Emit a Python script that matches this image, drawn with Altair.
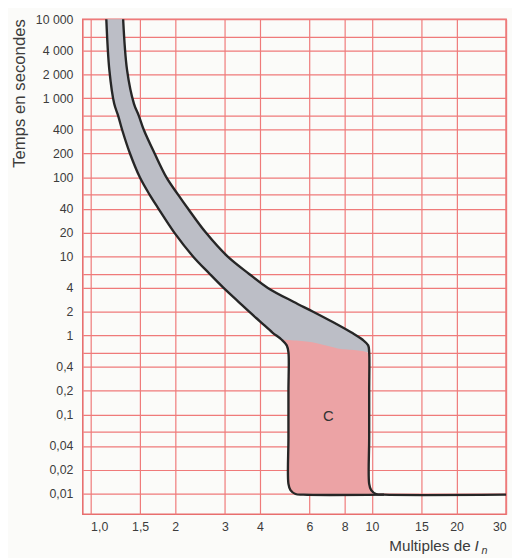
import altair as alt
import pandas as pd

# ---- axis ticks / grid ----
x_ticks = [1, 1.5, 2, 3, 4, 6, 8, 10, 15, 20, 30]
y_grid = [0.01, 0.02, 0.04, 0.06, 0.1, 0.2, 0.4, 0.6, 1, 2, 4, 6, 10, 20, 40, 60,
          100, 200, 400, 600, 1000, 2000, 4000, 6000, 10000]
y_labels = [0.01, 0.02, 0.04, 0.1, 0.2, 0.4, 1, 2, 4, 10, 20, 40, 100, 200, 400,
            1000, 2000, 4000, 10000]

# ---- lower (no-trip) curve: multiples of In / seconds ----
left_x = [1.137, 1.166, 1.213, 1.253, 1.294, 1.38, 1.496, 1.622, 1.744, 1.984, 2.312,
          2.652, 2.969, 3.355, 3.661, 4.025, 4.43, 4.77, 4.98, 5.05, 5.05, 5.05, 5.05,
          5.135, 5.35, 5.70, 11.04]
left_t = [10000, 2250, 850, 600, 400, 200, 100, 60, 40, 20, 10,
          6, 4, 2.67, 2, 1.48, 1.09, 0.89, 0.75, 0.61, 0.2, 0.05, 0.0133,
          0.0111, 0.0099, 0.0097, 0.0097]

# ---- upper (trip) curve ----
right_x = [1.305, 1.348, 1.426, 1.484, 1.545, 1.689, 1.86, 2.049, 2.221, 2.568, 3.066,
           3.661, 4.266, 5.26, 6.18, 7.26, 8.46, 9.25, 9.70, 9.78, 9.78, 9.78, 9.78,
           9.94, 10.35, 11.04, 30]
right_t = [10000, 2250, 850, 600, 400, 200, 100, 60, 40, 20, 10,
           6, 4, 2.67, 2, 1.48, 1.09, 0.89, 0.75, 0.61, 0.2, 0.05, 0.0133,
           0.0111, 0.0099, 0.0097, 0.0097]

# ---- grey thermal band (between the two curves) ----
band_t = [10000, 2250, 850, 600, 400, 200, 100, 60, 40, 20, 10, 6, 4, 2.67, 2, 1.48,
          1.09, 0.89, 0.75, 0.61]
band_l = [1.137, 1.166, 1.213, 1.253, 1.294, 1.38, 1.496, 1.622, 1.744, 1.984, 2.312,
          2.652, 2.969, 3.355, 3.661, 4.025, 4.43, 4.77, 4.98, 5.05]
band_r = [1.305, 1.348, 1.426, 1.484, 1.545, 1.689, 1.86, 2.049, 2.221, 2.568, 3.066,
          3.661, 4.266, 5.26, 6.18, 7.26, 8.46, 9.25, 9.70, 9.78]

# ---- pink magnetic zone C ----
zone_t = [0.89, 0.82, 0.75, 0.686, 0.61, 0.55, 0.2, 0.05, 0.0133, 0.0111, 0.0099, 0.0097]
zone_l = [4.77, 4.89, 4.98, 5.04, 5.05, 5.05, 5.05, 5.05, 5.05, 5.135, 5.35, 5.70]
zone_r = [4.77, 6.13, 6.81, 7.56, 9.63, 9.78, 9.78, 9.78, 9.78, 9.94, 10.35, 10.6]

zone_label = ["C"]
zone_label_x = [7.0]
zone_label_t = [0.095]

FONT = "Liberation Sans"
GRID = "#ef7a7a"
TXT = "#3c3c3c"

xs = alt.Scale(type="log", domain=[0.938, 30], nice=False)
ys = alt.Scale(type="log", domain=[0.005476, 10000], nice=False)

y_lab_list = "[" + ",".join(repr(v) for v in y_labels) + "]"
y_axis = alt.Axis(
    values=y_grid,
    labelExpr=("indexof(" + y_lab_list + ", datum.value) < 0 ? '' : "
               "(datum.value >= 1000 ? replace(format(datum.value, ','), ',', ' ') : "
               "replace(format(datum.value, '~g'), '.', ','))"),
    grid=True, ticks=False, domain=False, labelPadding=10,
    labelFontSize=12.5, labelFont=FONT, labelColor=TXT,
    labelOverlap=False, labelFlush=False,
    title="Temps en secondes", titleFont=FONT, titleFontSize=17,
    titleFontWeight="normal", titleColor=TXT, titleAngle=270,
    titleX=-59, titleY=75, titleAlign="center", titleBaseline="alphabetic",
    gridColor=GRID, gridWidth=1.2, gridOpacity=1,
)
x_axis = alt.Axis(
    values=x_ticks,
    labelExpr=("datum.value < 2 ? replace(format(datum.value, '.1f'), '.', ',') : "
               "format(datum.value, '~g')"),
    grid=True, ticks=False, domain=False, labelPadding=6,
    labelFontSize=12.5, labelFont=FONT, labelColor=TXT,
    labelOverlap=False, labelFlush=False,
    labelAlign={"condition": [{"test": "datum.value == 1", "value": "left"},
                              {"test": "datum.value == 30", "value": "right"}],
                "value": "center"},
    title="",
    gridColor=GRID, gridWidth=1.2, gridOpacity=1,
)

band = pd.DataFrame({"t": band_t, "xl": band_l, "xr": band_r})
zone = pd.DataFrame({"t": zone_t, "xl": zone_l, "xr": zone_r})
left = pd.DataFrame({"x": left_x, "t": left_t, "i": list(range(len(left_x)))})
right = pd.DataFrame({"x": right_x, "t": right_t, "i": list(range(len(right_x)))})
lab = pd.DataFrame({"x": zone_label_x, "t": zone_label_t, "label": zone_label})

band_layer = alt.Chart(band).mark_area(
    orient="horizontal", interpolate="catmull-rom", color="#bcbec6"
).encode(
    y=alt.Y("t:Q", scale=ys, axis=y_axis),
    x=alt.X("xl:Q", scale=xs, axis=x_axis),
    x2="xr:Q",
)
zone_layer = alt.Chart(zone).mark_area(
    orient="horizontal", interpolate="catmull-rom", color="#eca3a5"
).encode(
    y=alt.Y("t:Q", scale=ys, axis=y_axis),
    x=alt.X("xl:Q", scale=xs, axis=x_axis),
    x2="xr:Q",
)


def outline(df):
    return alt.Chart(df).mark_line(
        interpolate="catmull-rom", color="#262626", strokeWidth=2.4
    ).encode(
        x=alt.X("x:Q", scale=xs, axis=x_axis),
        y=alt.Y("t:Q", scale=ys, axis=y_axis),
        order="i:Q",
    )


label_layer = alt.Chart(lab).mark_text(
    font=FONT, fontSize=15, color="#333333"
).encode(
    x=alt.X("x:Q", scale=xs, axis=x_axis),
    y=alt.Y("t:Q", scale=ys, axis=y_axis),
    text="label:N",
)

one = pd.DataFrame({"a": [0]})
title_main = alt.Chart(one).mark_text(
    text="Multiples de", font=FONT, fontSize=15.5, color=TXT,
    align="right", baseline="alphabetic"
).encode(x=alt.value(394), y=alt.value(540))
title_i = alt.Chart(one).mark_text(
    text="I", font=FONT, fontSize=15.5, fontStyle="italic", color=TXT,
    align="left", baseline="alphabetic"
).encode(x=alt.value(398), y=alt.value(540))
title_n = alt.Chart(one).mark_text(
    text="n", font=FONT, fontSize=11, fontStyle="italic", color=TXT,
    align="left", baseline="alphabetic"
).encode(x=alt.value(405), y=alt.value(543))

chart = alt.layer(
    band_layer, zone_layer, outline(left), outline(right), label_layer,
    title_main, title_i, title_n
).properties(
    width=430, height=503,
    autosize=alt.AutoSizeParams(type="none"),
    padding={"left": 76, "top": 7, "right": 6, "bottom": 40},
    background="#fbfbf9",
).configure_view(
    stroke="#e86e6e", strokeWidth=1.6
)

chart.save("out.html", embed_options={"renderer": "svg", "actions": False})
